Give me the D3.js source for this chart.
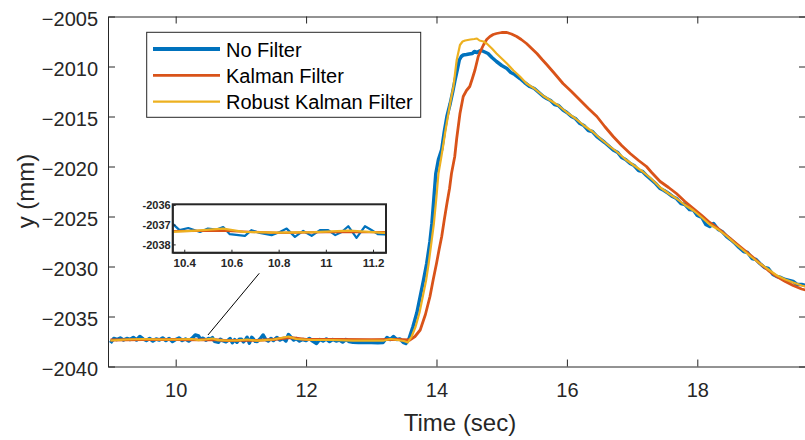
<!DOCTYPE html>
<html>
<head>
<meta charset="utf-8">
<script src="https://cdn.jsdelivr.net/npm/d3@7"></script>
<style>
  body { margin: 0; background: #fff; }
  svg { display: block; font-family: "Liberation Sans", Arial, Helvetica, sans-serif; }
</style>
</head>
<body>
<svg id="chart" width="805" height="440"></svg>
<script>

const noFilter = [
  [9.00,-2037.65],[9.05,-2037.2],[9.10,-2037.3],[9.15,-2037.15],[9.20,-2037.35],[9.25,-2037.2],
  [9.30,-2037.3],[9.35,-2037.1],[9.40,-2037.35],[9.45,-2037.0],[9.50,-2037.25],[9.55,-2037.4],
  [9.60,-2037.2],[9.65,-2037.45],[9.70,-2037.25],[9.75,-2037.35],[9.80,-2037.15],[9.85,-2037.4],
  [9.90,-2037.2],[9.95,-2037.5],[10.00,-2037.3],[10.05,-2037.15],[10.10,-2037.4],[10.15,-2037.25],
  [10.20,-2037.45],[10.25,-2037.2],[10.30,-2036.85],
  [10.35,-2036.95],[10.38,-2037.28],[10.417,-2037.17],[10.467,-2037.37],[10.50,-2037.2],[10.537,-2037.25],
  [10.565,-2037.12],[10.593,-2037.48],[10.657,-2037.57],[10.685,-2037.28],[10.72,-2037.42],[10.77,-2037.53],
  [10.805,-2037.37],[10.834,-2037.2],[10.869,-2037.62],[10.904,-2037.32],[10.94,-2037.57],[10.975,-2037.28],
  [11.01,-2037.28],[11.04,-2037.53],[11.067,-2037.37],[11.095,-2037.08],[11.13,-2037.67],[11.166,-2037.08],
  [11.195,-2037.28],[11.22,-2037.48],[11.25,-2037.5],
  [11.30,-2037.2],[11.34,-2036.85],[11.38,-2037.3],[11.42,-2037.45],[11.46,-2037.2],[11.50,-2037.4],
  [11.55,-2037.1],[11.60,-2037.35],[11.65,-2037.2],[11.69,-2037.45],[11.73,-2036.8],[11.77,-2037.1],
  [11.81,-2037.35],[11.85,-2037.2],[11.90,-2037.45],[11.95,-2037.3],[12.00,-2037.4],[12.05,-2037.2],
  [12.10,-2037.45],[12.16,-2037.7],[12.21,-2037.3],[12.26,-2037.45],[12.31,-2037.25],[12.36,-2037.5],
  [12.41,-2037.3],[12.46,-2037.45],[12.51,-2037.35],[12.56,-2037.55],[12.61,-2037.3],[12.66,-2037.5],
  [12.72,-2037.58],[12.80,-2037.6],[12.90,-2037.58],[13.00,-2037.6],[13.10,-2037.62],[13.18,-2037.6],
  [13.24,-2037.1],[13.29,-2037.3],[13.34,-2037.0],[13.39,-2037.3],[13.44,-2037.25],[13.49,-2037.58],
  [13.53,-2037.7],
  [13.58,-2037.2],[13.64,-2036.0],[13.70,-2034.6],[13.75,-2033.0],[13.80,-2031.4],[13.85,-2029.7],
  [13.90,-2027.5],[13.93,-2025.7],[13.96,-2023.2],[13.99,-2020.7],[14.03,-2019.3],[14.08,-2018.3],
  [14.12,-2016.5],[14.16,-2015.0],[14.21,-2013.7],[14.25,-2012.5],[14.28,-2011.5],[14.32,-2010.3],
  [14.35,-2009.35],[14.38,-2009.0],[14.41,-2008.85],[14.46,-2008.8],[14.50,-2008.75],[14.55,-2008.7],
  [14.58,-2008.5],[14.62,-2008.6],[14.66,-2008.45],[14.69,-2008.4],[14.74,-2008.55],[14.79,-2008.7],
  [14.85,-2009.1],[14.92,-2009.5],[15.00,-2009.9],[15.08,-2010.2],[15.14,-2010.6],[15.20,-2010.8],
  [15.28,-2011.2],[15.35,-2011.6],[15.43,-2012.0],[15.50,-2012.2],[15.57,-2012.6],[15.64,-2013.0],
  [15.69,-2013.2],[15.75,-2013.4],[15.81,-2013.8],[15.87,-2013.9],[15.94,-2014.35],[16.00,-2014.6],
  [16.07,-2015.0],[16.13,-2015.2],[16.20,-2015.7],[16.26,-2015.9],[16.33,-2016.4],[16.39,-2016.5],
  [16.46,-2017.0],[16.52,-2017.3],[16.58,-2017.6],[16.65,-2018.0],[16.71,-2018.35],[16.78,-2018.6],
  [16.84,-2019.1],[16.90,-2019.3],[16.97,-2019.7],[17.03,-2019.9],[17.10,-2020.4],[17.16,-2020.5],
  [17.22,-2020.9],[17.29,-2021.3],[17.36,-2021.7],[17.43,-2022.2],[17.49,-2022.4],[17.56,-2022.7],
  [17.62,-2023.0],[17.68,-2023.2],[17.75,-2023.7],[17.81,-2023.8],[17.88,-2024.3],[17.94,-2024.35],
  [18.00,-2024.9],[18.07,-2025.1],[18.13,-2025.8],[18.19,-2026.0],[18.25,-2025.7],[18.32,-2026.3],
  [18.38,-2026.5],[18.45,-2027.0],[18.51,-2027.3],[18.58,-2027.7],[18.64,-2028.1],[18.71,-2028.5],
  [18.77,-2028.6],[18.84,-2029.2],[18.90,-2029.3],[18.96,-2029.7],[19.03,-2030.1],[19.09,-2030.2],
  [19.16,-2030.8],[19.22,-2031.0],[19.28,-2031.1],[19.35,-2031.3],[19.41,-2031.4],[19.47,-2031.5],
  [19.53,-2031.8],[19.60,-2031.8],[19.66,-2031.9],[19.72,-2032.0]
];

const kalman = [
  [9.00,-2037.35],[9.50,-2037.32],[10.00,-2037.3],[10.35,-2037.33],[10.55,-2037.3],[10.80,-2037.42],
  [11.00,-2037.38],[11.25,-2037.38],[11.50,-2037.3],[11.75,-2037.1],[12.00,-2037.3],[12.50,-2037.3],
  [13.00,-2037.32],[13.40,-2037.3],[13.59,-2037.35],[13.67,-2037.0],[13.75,-2036.35],[13.83,-2034.8],
  [13.90,-2033.0],[13.95,-2031.3],[14.00,-2029.7],[14.04,-2028.3],[14.08,-2027.0],[14.12,-2025.3],
  [14.16,-2023.7],[14.20,-2022.2],[14.23,-2020.7],[14.28,-2019.0],[14.31,-2017.2],[14.36,-2014.7],
  [14.41,-2013.0],[14.46,-2012.4],[14.51,-2012.0],[14.55,-2011.2],[14.59,-2010.35],[14.64,-2009.0],
  [14.68,-2008.4],[14.72,-2007.85],[14.77,-2007.3],[14.82,-2007.0],[14.87,-2006.8],[14.92,-2006.7],
  [15.00,-2006.6],[15.08,-2006.6],[15.15,-2006.75],[15.23,-2007.0],[15.30,-2007.3],[15.38,-2007.7],
  [15.46,-2008.2],[15.54,-2008.7],[15.62,-2009.3],[15.69,-2009.8],[15.81,-2010.7],[15.94,-2011.7],
  [16.07,-2012.5],[16.20,-2013.35],[16.33,-2014.2],[16.46,-2015.0],[16.58,-2016.0],[16.71,-2017.0],
  [16.84,-2017.9],[16.97,-2018.7],[17.10,-2019.4],[17.22,-2020.0],[17.30,-2020.6],[17.43,-2021.5],
  [17.56,-2022.1],[17.68,-2022.7],[17.81,-2023.5],[17.94,-2024.2],[18.07,-2024.9],[18.19,-2025.6],
  [18.32,-2026.2],[18.45,-2026.9],[18.58,-2027.6],[18.71,-2028.3],[18.84,-2029.0],[18.96,-2029.7],
  [19.09,-2030.4],[19.22,-2031.0],[19.35,-2031.5],[19.47,-2031.9],[19.60,-2032.25],[19.72,-2032.45]
];

const robust = [
  [9.00,-2037.4],[9.25,-2037.3],[9.50,-2037.25],[9.75,-2037.3],[10.00,-2037.3],[10.25,-2037.25],
  [10.35,-2037.37],[10.45,-2037.3],[10.565,-2037.2],[10.65,-2037.37],[10.80,-2037.4],[10.95,-2037.38],
  [11.10,-2037.3],[11.25,-2037.42],[11.50,-2037.3],[11.73,-2037.0],[11.85,-2037.25],[12.10,-2037.35],
  [12.40,-2037.35],[12.72,-2037.42],[13.18,-2037.42],[13.30,-2037.25],[13.50,-2037.45],[13.56,-2037.6],
  [13.62,-2037.0],[13.68,-2036.0],[13.74,-2034.6],[13.79,-2033.0],[13.84,-2031.4],[13.88,-2029.7],
  [13.92,-2027.7],[13.96,-2025.7],[14.00,-2023.0],[14.03,-2020.7],[14.07,-2019.2],[14.10,-2018.0],
  [14.14,-2016.3],[14.18,-2014.8],[14.22,-2013.3],[14.26,-2012.0],[14.31,-2009.35],[14.36,-2007.85],
  [14.40,-2007.5],[14.44,-2007.4],[14.52,-2007.3],[14.58,-2007.25],[14.62,-2007.2],[14.66,-2007.4],
  [14.72,-2007.5],[14.77,-2007.7],[14.85,-2008.2],[14.92,-2008.7],[15.00,-2009.2],[15.08,-2009.7],
  [15.18,-2010.4],[15.28,-2011.0],[15.38,-2011.7],[15.50,-2012.2],[15.64,-2012.95],[15.75,-2013.4],
  [15.87,-2013.9],[16.00,-2014.6],[16.13,-2015.2],[16.26,-2015.9],[16.39,-2016.5],[16.52,-2017.25],
  [16.65,-2017.95],[16.78,-2018.6],[16.90,-2019.3],[17.03,-2019.9],[17.16,-2020.5],[17.29,-2021.2],
  [17.43,-2022.1],[17.56,-2022.7],[17.68,-2023.2],[17.81,-2023.85],[17.94,-2024.4],[18.07,-2025.1],
  [18.19,-2025.8],[18.32,-2026.3],[18.45,-2026.95],[18.58,-2027.7],[18.71,-2028.4],[18.84,-2029.1],
  [18.96,-2029.7],[19.09,-2030.3],[19.22,-2030.9],[19.35,-2031.3],[19.47,-2031.6],[19.60,-2031.9],
  [19.72,-2032.1]
];

const xTicks = [10, 12, 14, 16, 18];
const yTicks = [-2040, -2035, -2030, -2025, -2020, -2015, -2010, -2005];
const insetXTicks = [10.4, 10.6, 10.8, 11, 11.2];
const insetYTicks = [-2038, -2037, -2036];
// arrow from the inset down to the zoomed stretch (main-axes data coords)
const pointer = [[11.282, -2030.68], [10.495, -2036.85]];

const series = [
  {name: 'No Filter', data: noFilter, color: '#0072BD', width: 3.5, legendWidth: 4},
  {name: 'Kalman Filter', data: kalman, color: '#D95319', width: 2.8, legendWidth: 2.8},
  {name: 'Robust Kalman Filter', data: robust, color: '#EDB120', width: 2.2, legendWidth: 2.4}
];

const AX = '#262626';
const svg = d3.select('#chart');

const box = {left: 108, right: 806, top: 16.5, bottom: 366.5};
const x = d3.scaleLinear().domain([8.962, 19.667]).range([box.left, box.right]);
const y = d3.scaleLinear().domain([-2040, -2005]).range([box.bottom, box.top]);

svg.append('clipPath').attr('id', 'clipMain')
  .append('rect').attr('x', box.left).attr('y', box.top)
  .attr('width', box.right - box.left).attr('height', box.bottom - box.top);

// lines
const line = d3.line().x(d => x(d[0])).y(d => y(d[1]));
const plot = svg.append('g').attr('clip-path', 'url(#clipMain)');
series.forEach(s => {
  plot.append('path').attr('d', line(s.data))
    .attr('fill', 'none').attr('stroke', s.color)
    .attr('stroke-width', s.width).attr('stroke-linejoin', 'round');
});

// axes, MATLAB style: ticks pointing inward, box on
const fmtMinus = v => String(v).replace('-', '\u2212');

function styleAxis(g) {
  g.select('.domain').attr('stroke', AX).attr('stroke-width', 1);
  g.selectAll('.tick line').attr('stroke', AX);
  g.selectAll('.tick text').attr('fill', AX).attr('font-family', null);
}

svg.append('g').attr('transform', `translate(0,${box.bottom})`)
  .call(d3.axisBottom(x).tickValues(xTicks).tickSizeInner(-7).tickSizeOuter(0).tickPadding(16.5))
  .attr('font-size', 20)
  .call(styleAxis);

svg.append('g').attr('transform', `translate(${box.left},0)`)
  .call(d3.axisLeft(y).tickValues(yTicks).tickSizeInner(-7).tickSizeOuter(0).tickPadding(10)
    .tickFormat(fmtMinus))
  .attr('font-size', 20)
  .call(styleAxis)
  .selectAll('.tick text').attr('dy', '0.45em');

svg.append('g').attr('transform', `translate(0,${box.top})`)
  .call(d3.axisTop(x).tickValues(xTicks).tickSizeInner(-7).tickSizeOuter(0).tickFormat(''))
  .call(styleAxis);

svg.append('g').attr('transform', `translate(${box.right},0)`)
  .call(d3.axisRight(y).tickValues(yTicks).tickSizeInner(-7).tickSizeOuter(0).tickFormat(''))
  .call(styleAxis);

// axis labels
svg.append('text').attr('x', 460).attr('y', 431)
  .attr('text-anchor', 'middle').attr('font-size', 24).attr('fill', AX)
  .text('Time (sec)');
svg.append('text').attr('transform', 'translate(34,191) rotate(-90)')
  .attr('text-anchor', 'middle').attr('font-size', 24).attr('fill', AX)
  .text('y (mm)');

// legend
const lg = svg.append('g');
lg.append('rect').attr('x', 146.7).attr('y', 32.3).attr('width', 274).attr('height', 85)
  .attr('fill', '#fff').attr('stroke', AX).attr('stroke-width', 1);
series.forEach((s, i) => {
  const ly = 49 + i * 26.3;
  lg.append('line').attr('x1', 153).attr('x2', 220).attr('y1', ly).attr('y2', ly)
    .attr('stroke', s.color).attr('stroke-width', s.legendWidth);
  lg.append('text').attr('x', 226).attr('y', ly + 7.5)
    .attr('font-size', 20).attr('fill', '#000').text(s.name);
});

// pointer line
svg.append('line')
  .attr('x1', x(pointer[0][0])).attr('y1', y(pointer[0][1]))
  .attr('x2', x(pointer[1][0])).attr('y2', y(pointer[1][1]))
  .attr('stroke', '#000').attr('stroke-width', 1);

// inset: zoom on the steady part
const ib = {left: 172.7, right: 386, top: 204.3, bottom: 252.7};
const ix = d3.scaleLinear().domain([10.351, 11.255]).range([ib.left, ib.right]);
const iy = d3.scaleLinear().domain([-2038.42, -2035.97]).range([ib.bottom, ib.top]);

svg.append('clipPath').attr('id', 'clipInset')
  .append('rect').attr('x', ib.left).attr('y', ib.top)
  .attr('width', ib.right - ib.left).attr('height', ib.bottom - ib.top);

const inset = svg.append('g');
inset.append('rect').attr('x', ib.left).attr('y', ib.top)
  .attr('width', ib.right - ib.left).attr('height', ib.bottom - ib.top).attr('fill', '#fff');

const iline = d3.line().x(d => ix(d[0])).y(d => iy(d[1]));
const iplot = inset.append('g').attr('clip-path', 'url(#clipInset)');
series.forEach(s => {
  iplot.append('path').attr('d', iline(s.data))
    .attr('fill', 'none').attr('stroke', s.color)
    .attr('stroke-width', 2.2).attr('stroke-linejoin', 'round');
});

inset.append('g').attr('transform', `translate(0,${ib.bottom})`)
  .call(d3.axisBottom(ix).tickValues(insetXTicks).tickSizeInner(-3).tickSizeOuter(0).tickPadding(6)
    .tickFormat(d => String(d)))
  .attr('font-size', 11.5).attr('font-weight', 'bold')
  .call(styleAxis);

inset.append('g').attr('transform', `translate(${ib.left},0)`)
  .call(d3.axisLeft(iy).tickValues(insetYTicks).tickSizeInner(-3).tickSizeOuter(0).tickPadding(2)
    .tickFormat(d => String(d)))
  .attr('font-size', 11).attr('font-weight', 'bold')
  .call(styleAxis)
  .selectAll('.tick text').attr('dy', '0.36em');

inset.append('rect').attr('x', ib.left).attr('y', ib.top)
  .attr('width', ib.right - ib.left).attr('height', ib.bottom - ib.top)
  .attr('fill', 'none').attr('stroke', AX).attr('stroke-width', 2);
</script>
</body>
</html>
